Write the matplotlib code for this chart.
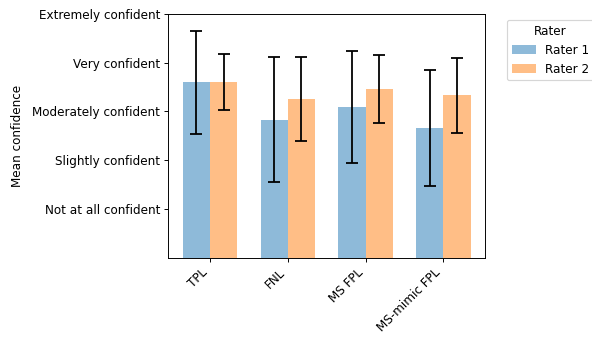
import matplotlib
matplotlib.use("Agg")
import matplotlib.pyplot as plt
import numpy as np

categories = ["TPL", "FNL", "MS FPL", "MS-mimic FPL"]
rater1_mean = [3.60, 2.83, 3.09, 2.66]
rater1_err = [1.06, 1.28, 1.15, 1.19]
rater2_mean = [3.60, 3.26, 3.46, 3.33]
rater2_err = [0.58, 0.86, 0.69, 0.77]
ytick_vals = [1, 2, 3, 4, 5]
ytick_labels = ["Not at all confident", "Slightly confident", "Moderately confident",
                "Very confident", "Extremely confident"]

DPI = 86
fig = plt.figure(figsize=(592 / DPI, 338 / DPI), dpi=DPI)
ax = fig.add_axes([0.2843, 0.2376, 0.8193 - 0.2843, 0.9586 - 0.2376])

x = np.arange(len(categories))
w = 0.35
ax.bar(x - w / 2, rater1_mean, w, yerr=rater1_err, capsize=5, color="tab:blue", alpha=0.5,
       label="Rater 1", error_kw=dict(ecolor="black", elinewidth=1.5, capthick=1.5, alpha=1))
ax.bar(x + w / 2, rater2_mean, w, yerr=rater2_err, capsize=5, color="tab:orange", alpha=0.5,
       label="Rater 2", error_kw=dict(ecolor="black", elinewidth=1.5, capthick=1.5, alpha=1))

ax.set_xticks(x)
ax.set_xticklabels(categories, rotation=45, ha="right")
ax.set_yticks(ytick_vals)
ax.set_yticklabels(ytick_labels)
ax.set_ylim(0, 5)
ax.set_ylabel("Mean confidence", labelpad=7)
ax.legend(title="Rater", bbox_to_anchor=(1.05, 1), loc="upper left")

fig.savefig("out.png", dpi=DPI)
